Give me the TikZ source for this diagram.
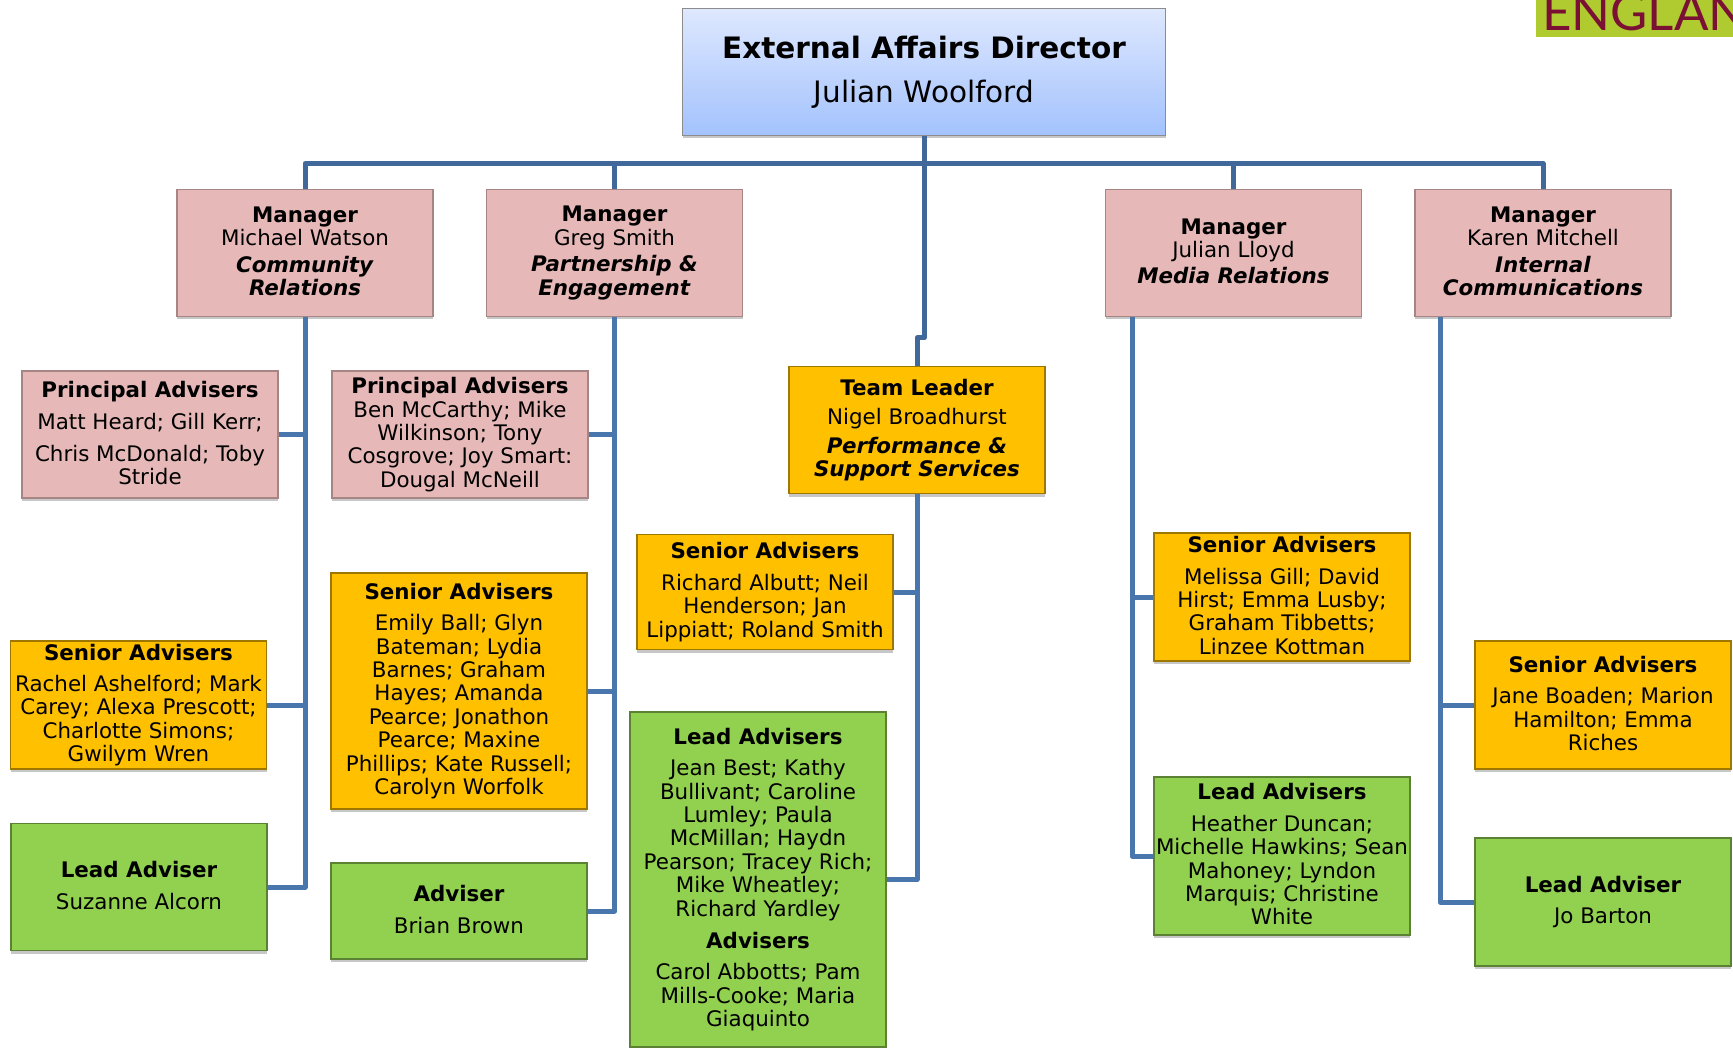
\documentclass[tikz,border=0pt]{standalone}
\usepackage{fontspec}
\setmainfont{DejaVu Sans}
\newfontfamily\logofont{Lato}
\usetikzlibrary{shadows}
\definecolor{boxpink}{HTML}{E6B9B8}
\definecolor{boxgold}{HTML}{FFC000}
\definecolor{boxgreen}{HTML}{92D050}
\definecolor{linkblue}{HTML}{4A76AE}
\definecolor{linkdark}{HTML}{41689A}
\definecolor{dirtop}{HTML}{DEE8FE}
\definecolor{dirbottom}{HTML}{A3C2FD}
\definecolor{logogreen}{HTML}{B0CB2F}
\definecolor{logored}{HTML}{7B1035}
\begin{document}
\begin{tikzpicture}[x=1pt, y=-1pt,
    orgbox/.style={rectangle, inner sep=0pt, align=center, text=black, minimum width=256pt,
        line width=1.2pt, font=\fontsize{21.4}{23.4}\selectfont,
        execute at begin node=\rule{0pt}{20pt}, execute at end node=\rule[-3.4pt]{0pt}{0pt},
        drop shadow={shadow xshift=0pt, shadow yshift=-3pt, opacity=.22, fill=black}},
    pinkbox/.style={orgbox, fill=boxpink, draw=boxpink!72!black},
    goldbox/.style={orgbox, fill=boxgold, draw=boxgold!62!black},
    greenbox/.style={orgbox, fill=boxgreen, draw=boxgreen!62!black},
    link/.style={draw=linkblue, line width=5pt, line join=round},
    buslink/.style={link, draw=linkdark}]
    \useasboundingbox (0,0) rectangle (1733,1048);

    \begin{scope}
        \clip (1536,0) rectangle (1733,37);
        \fill [logogreen] (1536,0) rectangle (1733,37);
        \node [anchor=base west, inner sep=0pt, text=logored, font=\logofont\fontsize{51}{51}\selectfont] (logo) at (1542,31) {ENGLAN};
    \end{scope}

    \node [orgbox, minimum width=483pt, minimum height=127pt, top color=dirtop, bottom color=dirbottom, draw=black!45,
        execute at begin node=\rule{0pt}{26pt},
        font=\fontsize{29.5}{44}\selectfont] (dir) at (924,72) {\textbf{External Affairs Director}\\Julian Woolford};

    \node [pinkbox, minimum height=127pt] (mgrA) at (305,253) {\textbf{Manager}\\Michael Watson\\[3pt]\textbf{\textit{Community}}\\\textbf{\textit{Relations}}};
    \node [pinkbox, minimum height=127pt] (mgrB) at (614.5,253) {\textbf{Manager}\\Greg Smith\\[3pt]\textbf{\textit{Partnership \&}}\\\textbf{\textit{Engagement}}};
    \node [pinkbox, minimum height=127pt] (mgrC) at (1233.5,253) {\textbf{Manager}\\Julian Lloyd\\[3pt]\textbf{\textit{Media Relations}}};
    \node [pinkbox, minimum height=127pt] (mgrD) at (1543,253) {\textbf{Manager}\\Karen Mitchell\\[3pt]\textbf{\textit{Internal}}\\\textbf{\textit{Communications}}};
    \node [goldbox, minimum height=127pt] (teamlead) at (917,430) {\textbf{Team Leader}\\[6pt]Nigel Broadhurst\\[5pt]\textbf{\textit{Performance \&}}\\\textbf{\textit{Support Services}}};

    \node [pinkbox, minimum height=127pt] (principalA) at (150,434.5) {\textbf{Principal Advisers}\\[9pt]Matt Heard; Gill Kerr;\\[8pt]Chris McDonald; Toby\\Stride};
    \node [goldbox, minimum height=128pt] (seniorA) at (138.5,705) {\textbf{Senior Advisers}\\[8pt]Rachel Ashelford; Mark\\Carey; Alexa Prescott;\\Charlotte Simons;\\Gwilym Wren};
    \node [greenbox, minimum height=127pt] (leadA) at (139,887) {\textbf{Lead Adviser}\\[8pt]Suzanne Alcorn};

    \node [pinkbox, minimum height=127pt] (principalB) at (460,434.5) {\textbf{Principal Advisers}\\Ben McCarthy; Mike\\Wilkinson; Tony\\Cosgrove; Joy Smart:\\Dougal McNeill};
    \node [goldbox, minimum height=236pt] (seniorB) at (459,691) {\textbf{Senior Advisers}\\[8pt]Emily Ball; Glyn\\Bateman; Lydia\\Barnes; Graham\\Hayes; Amanda\\Pearce; Jonathon\\Pearce; Maxine\\Phillips; Kate Russell;\\Carolyn Worfolk};
    \node [greenbox, minimum height=96pt] (adviserB) at (459,911) {\textbf{Adviser}\\[8pt]Brian Brown};

    \node [goldbox, minimum height=115pt] (seniorT) at (765,592) {\textbf{Senior Advisers}\\[8pt]Richard Albutt; Neil\\Henderson; Jan\\Lippiatt; Roland Smith};
    \node [greenbox, minimum height=335pt] (leadT) at (758,879.5) {\textbf{Lead Advisers}\\[8pt]Jean Best; Kathy\\Bullivant; Caroline\\Lumley; Paula\\McMillan; Haydn\\Pearson; Tracey Rich;\\Mike Wheatley;\\Richard Yardley\\[9pt]\textbf{Advisers}\\[8pt]Carol Abbotts; Pam\\Mills-Cooke; Maria\\Giaquinto};

    \node [goldbox, minimum height=128pt] (seniorC) at (1282,597) {\textbf{Senior Advisers}\\[8pt]Melissa Gill; David\\Hirst; Emma Lusby;\\Graham Tibbetts;\\Linzee Kottman};
    \node [greenbox, minimum height=158pt] (leadC) at (1282,856) {\textbf{Lead Advisers}\\[8pt]Heather Duncan;\\Michelle Hawkins; Sean\\Mahoney; Lyndon\\Marquis; Christine\\White};

    \node [goldbox, minimum height=128pt] (seniorD) at (1603,705) {\textbf{Senior Advisers}\\[8pt]Jane Boaden; Marion\\Hamilton; Emma\\Riches};
    \node [greenbox, minimum height=128pt] (leadD) at (1603,902) {\textbf{Lead Adviser}\\[8pt]Jo Barton};

    \coordinate (bus) at (924,163.5);
    \coordinate (jog) at (924,338);
    \coordinate (railC) at (1132,317);
    \coordinate (railD) at (1440,317);

    \draw [buslink] (dir.south) -- (jog) -| (teamlead.north);
    \draw [buslink] (mgrA.north) |- (bus) -| (mgrD.north);
    \draw [buslink] (mgrB.north) -- (mgrB.north |- bus);
    \draw [buslink] (mgrC.north) -- (mgrC.north |- bus);

    \foreach \rail/\last/\first in {mgrA.south/leadA/principalA, mgrB.south/adviserB/principalB, teamlead.south/leadT/seniorT}
        {\draw [link] (\rail) |- (\last.east);
         \draw [link] (\first.east) -- (\first.east -| \rail);}
    \draw [link] (seniorA.east) -- (seniorA.east -| mgrA.south);
    \draw [link] (seniorB.east) -- (seniorB.east -| mgrB.south);

    \foreach \rail/\last/\first in {railC/leadC/seniorC, railD/leadD/seniorD}
        {\draw [link] (\rail) |- (\last.west);
         \draw [link] (\first.west) -- (\first.west -| \rail);}
\end{tikzpicture}
\end{document}
